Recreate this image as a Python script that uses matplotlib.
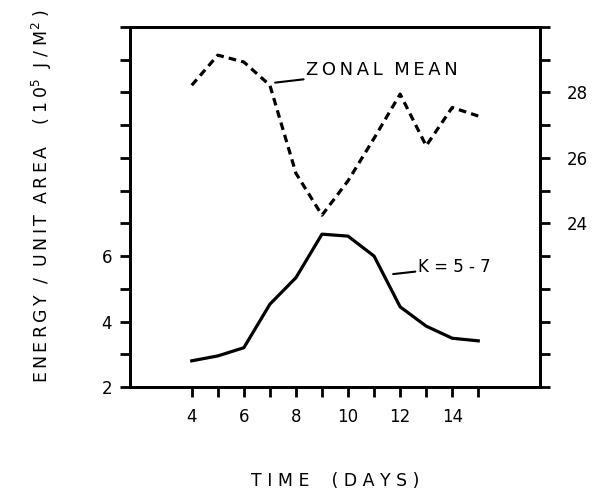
# energy of the K=5-7 waves and the zonal mean against time
import matplotlib
matplotlib.use("Agg")
import matplotlib.pyplot as plt

days = [4, 5, 6, 7, 8, 9, 10, 11, 12, 13, 14, 15]
kwave = [2.80, 2.95, 3.20, 4.53, 5.34, 6.67, 6.61, 6.00, 4.45, 3.86, 3.49, 3.41]
zonal = [28.22, 29.14, 28.93, 28.22, 25.53, 24.25, 25.30, 26.60, 27.95, 26.37, 27.54, 27.28]

xticks = list(range(4, 16))
xlabels = ["4", "", "6", "", "8", "", "10", "", "12", "", "14", ""]
lticks = list(range(2, 14))
llabels = ["2", "", "4", "", "6", "", "", "", "", "", "", ""]
rticks = list(range(19, 31))
rlabels = ["", "", "", "", "", "24", "", "26", "", "28", "", ""]


def spaced(s):
    # wide lettering like the original drawing
    return "\u2009".join(s)


plt.rcParams["font.family"] = "DejaVu Sans"
plt.rcParams["axes.linewidth"] = 2

fig = plt.figure(figsize=(5.97, 4.90), dpi=100)
ax = fig.add_axes([0.2178, 0.2102, 0.6867, 0.7347])
ax2 = ax.twinx()

ax.plot(days, kwave, color="black", lw=2.3, solid_joinstyle="round")
ax2.plot(days, zonal, color="black", lw=2.3, linestyle=(0, (2.4, 1.6)))

ax.set_xlim(1.63, 17.37)
ax.set_ylim(2, 13)
ax2.set_ylim(19, 30)

ax.set_xticks(xticks)
ax.set_xticklabels(xlabels)
ax.set_yticks(lticks)
ax.set_yticklabels(llabels)
ax2.set_yticks(rticks)
ax2.set_yticklabels(rlabels)

ax.tick_params(axis="both", direction="out", length=7, width=2, labelsize=12, pad=6)
ax.tick_params(axis="x", pad=8)
ax2.tick_params(axis="y", direction="out", length=7, width=2, labelsize=12, pad=12)

ax2.annotate(spaced("ZONAL") + "  " + spaced("MEAN"), xy=(7.2, 28.3), xytext=(8.4, 28.68),
             fontsize=13, va="center", ha="left",
             arrowprops=dict(arrowstyle="-", color="black", lw=1.5, shrinkA=0, shrinkB=0))
ax.annotate("K = 5 - 7", xy=(11.73, 5.45), xytext=(12.69, 5.66),
            fontsize=12, va="center", ha="left",
            arrowprops=dict(arrowstyle="-", color="black", lw=1.5, shrinkA=0, shrinkB=0))

ax.set_xlabel("T I M E    ( D A Y S )", fontsize=12.5, labelpad=33)
ylab = (spaced("ENERGY") + "  /  " + spaced("UNIT") + "  " + spaced("AREA")
        + "    ( 1\u20090$^5$  J / M$^2$ )")
ax.set_ylabel(ylab, fontsize=12.5)
ax.yaxis.set_label_coords(-0.185, 0.53)

fig.savefig("out.png", dpi=100)
